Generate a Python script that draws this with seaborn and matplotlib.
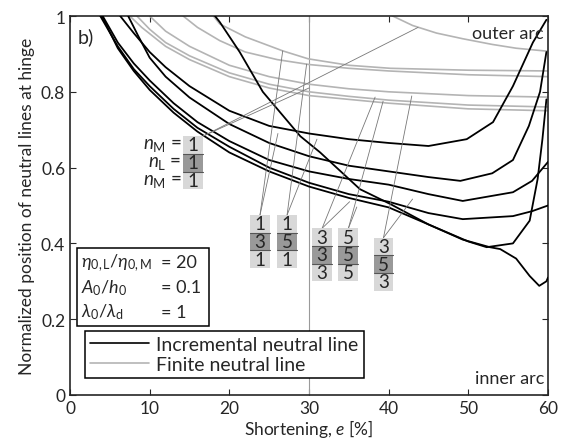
import numpy as np
import pandas as pd
import matplotlib
matplotlib.use("Agg")
import matplotlib.pyplot as plt
from matplotlib.patches import Rectangle
import seaborn as sns

# incremental neutral lines (black)
inc_x = {
    "k1": [6.3, 8, 10, 12, 15, 20, 25, 30, 35, 40, 45, 49.8, 53.1, 55.6, 58.1, 59.8],
    "k2": [7.3, 8.5, 10, 12, 15, 20, 25, 30, 35, 40, 45, 49, 53, 55.6, 57.6, 59, 59.8],
    "k3": [4.1, 6, 8, 10, 13, 16, 20, 25, 30, 35, 40, 45, 49.3, 55.6, 58, 60],
    "k4": [3.8, 6, 8, 10, 13, 16, 20, 25, 30, 35, 40, 45, 49.3, 55.6, 58, 60],
    "k5": [4.0, 6, 8, 10, 13, 16, 20, 25, 30, 35, 40, 45, 50, 52.3, 55.6, 57.7, 58.7, 59.3, 59.8],
    "k6": [18.2, 18.8, 21.3, 24.2, 28.9, 31.4, 36.4, 40.2, 45, 49.3, 52.7, 54, 56, 57.7, 58.9, 59.8, 60],
}
inc_y = {
    "k1": [1.0, 0.955, 0.905, 0.865, 0.815, 0.75, 0.71, 0.69, 0.675, 0.665, 0.657, 0.675, 0.72, 0.815, 0.93, 0.99],
    "k2": [1.0, 0.95, 0.89, 0.84, 0.785, 0.715, 0.665, 0.63, 0.605, 0.59, 0.575, 0.565, 0.585, 0.62, 0.71, 0.8, 0.905],
    "k3": [1.0, 0.93, 0.875, 0.83, 0.77, 0.72, 0.67, 0.62, 0.59, 0.57, 0.555, 0.53, 0.512, 0.535, 0.565, 0.615],
    "k4": [1.0, 0.92, 0.86, 0.815, 0.755, 0.705, 0.655, 0.6, 0.56, 0.53, 0.51, 0.48, 0.464, 0.472, 0.485, 0.5],
    "k5": [1.0, 0.915, 0.855, 0.805, 0.745, 0.695, 0.64, 0.59, 0.55, 0.52, 0.495, 0.45, 0.405, 0.39, 0.4, 0.46, 0.57, 0.675, 0.78],
    "k6": [1.0, 0.984, 0.905, 0.8, 0.683, 0.64, 0.543, 0.504, 0.45, 0.41, 0.39, 0.385, 0.36, 0.314, 0.288, 0.3, 0.31],
}

# finite neutral lines (grey)
fin_x = {
    "g1": [40.5, 43, 46, 49.3, 53, 56, 60],
    "g2": [18.0, 18.8, 22, 26.7, 29.9, 35, 40.2, 50, 60],
    "g3": [14.2, 16, 18.8, 22, 26, 30, 35, 40, 50, 60],
    "g4": [10, 12, 15, 20, 25, 30, 35, 40, 50, 60],
    "g5": [8.4, 10, 12, 15, 20, 25, 30, 35, 40, 50, 60],
    "g6": [7.5, 9, 12, 15, 20, 25, 30, 35, 40, 50, 60],
}
fin_y = {
    "g1": [1.0, 0.975, 0.955, 0.94, 0.925, 0.915, 0.907],
    "g2": [1.0, 0.979, 0.945, 0.908, 0.887, 0.87, 0.862, 0.857, 0.855],
    "g3": [1.0, 0.97, 0.935, 0.905, 0.885, 0.872, 0.862, 0.855, 0.845, 0.84],
    "g4": [1.0, 0.96, 0.92, 0.87, 0.84, 0.82, 0.808, 0.8, 0.79, 0.786],
    "g5": [1.0, 0.965, 0.93, 0.895, 0.85, 0.82, 0.8, 0.788, 0.778, 0.765, 0.76],
    "g6": [1.0, 0.97, 0.92, 0.885, 0.84, 0.81, 0.79, 0.78, 0.77, 0.755, 0.75],
}

# layer stacks n_M / n_L / n_M
stacks = [("1", "1", "1"), ("1", "3", "1"), ("1", "5", "1"),
          ("3", "3", "3"), ("5", "5", "5"), ("3", "5", "3")]
stack_x = [14.2, 22.6, 26.0, 30.4, 33.7, 38.1]
stack_top = [0.683, 0.475, 0.475, 0.44, 0.44, 0.415]
# end points of the pointer lines (one on a grey and one on a black curve)
ptr_ends = [[(43.7, 0.97), (30.0, 0.81)],
            [(26.7, 0.908), (26.1, 0.69)],
            [(29.7, 0.873), (31.0, 0.675)],
            [(38.3, 0.786), (35.1, 0.51)],
            [(39.3, 0.775), (36.0, 0.496)],
            [(42.9, 0.789), (43.0, 0.517)]]

rows = []
for k in inc_x:
    for xv, yv in zip(inc_x[k], inc_y[k]):
        rows.append({"e": xv, "pos": yv, "curve": k, "kind": "Incremental neutral line"})
for k in fin_x:
    for xv, yv in zip(fin_x[k], fin_y[k]):
        rows.append({"e": xv, "pos": yv, "curve": k, "kind": "Finite neutral line"})
df = pd.DataFrame(rows)

sns.set_style("ticks")
plt.rcParams["font.family"] = ["Lato", "DejaVu Sans"]
plt.rcParams["mathtext.fontset"] = "custom"
plt.rcParams["mathtext.it"] = "Lato:italic"
plt.rcParams["mathtext.rm"] = "Lato"

fig = plt.figure(figsize=(5.63, 4.39), dpi=100)
ax = fig.add_axes([70 / 563, 1 - 396 / 439, 478 / 563, 379 / 439])

ax.axvline(30, color="#9a9a9a", lw=0.8, zorder=1)

sns.lineplot(data=df[df.kind == "Finite neutral line"], x="e", y="pos", units="curve",
             estimator=None, sort=False, color="#b4b4b4", lw=1.2, ax=ax, zorder=2)
sns.lineplot(data=df[df.kind == "Incremental neutral line"], x="e", y="pos", units="curve",
             estimator=None, sort=False, color="black", lw=1.3, ax=ax, zorder=3)

ax.set_xlim(0, 60)
ax.set_ylim(0, 1)
ax.set_xticks(range(0, 61, 10))
ax.set_yticks([0, 0.2, 0.4, 0.6, 0.8, 1])
ax.set_yticklabels(["0", "0.2", "0.4", "0.6", "0.8", "1"])
ax.tick_params(direction="in", top=True, right=True, labelsize=12.5, length=4)
for s in ax.spines.values():
    s.set_linewidth(1.2)
ax.set_xlabel("Shortening, $e$ [%]", fontsize=12.5, labelpad=1)
ax.set_ylabel("Normalized position of neutral lines at hinge", fontsize=12.5, labelpad=4)

# stacks of layer boxes
cw, ch = 2.5, 0.14 / 3
for (a, b, c), x0, top, ends in zip(stacks, stack_x, stack_top, ptr_ends):
    for i, (v, col) in enumerate(zip((a, b, c), ("#d8d8d8", "#999999", "#d8d8d8"))):
        y0 = top - (i + 1) * ch
        ax.add_patch(Rectangle((x0, y0), cw, ch, facecolor=col, edgecolor="none", zorder=4))
        ax.text(x0 + cw / 2, y0 + ch / 2, v, ha="center", va="center", fontsize=13.5, zorder=5)
    for yy in (top - ch, top - 2 * ch):
        ax.plot([x0, x0 + cw], [yy, yy], color="#555555", lw=0.8, zorder=5)
    sx = x0 + cw / 2 if x0 > 20 else x0 + cw
    for ex, ey in ends:
        ax.plot([sx, ex], [top, ey], color="#777777", lw=0.6, zorder=3)

for i, lab in enumerate(["$n_\\mathrm{M}$ =", "$n_\\mathrm{L}$ =", "$n_\\mathrm{M}$ ="]):
    ax.text(14.0, stack_top[0] - (i + 0.5) * ch, lab, ha="right", va="center", fontsize=13.5, zorder=5)

ax.text(0.9, 0.93, "b)", fontsize=14)
ax.text(59.5, 0.955, "outer arc", ha="right", va="center", fontsize=13)
ax.text(59.5, 0.045, "inner arc", ha="right", va="center", fontsize=13)

# parameter box
ax.add_patch(Rectangle((0.9, 0.182), 16.5, 0.206, facecolor="white", edgecolor="black", lw=1.1, zorder=4))
params = [("$\\eta_{0,\\mathrm{L}}/\\eta_{0,\\mathrm{M}}$", "= 20"),
          ("$A_0/h_0$", "= 0.1"),
          ("$\\lambda_0/\\lambda_\\mathrm{d}$", "= 1")]
for i, (l, r) in enumerate(params):
    yy = 0.35 - i * 0.065
    ax.text(1.4, yy, l, va="center", fontsize=13, zorder=5)
    ax.text(11.4, yy, r, va="center", fontsize=13, zorder=5)

leg = ax.legend(handles=[plt.Line2D([], [], color="black", lw=1.2),
                         plt.Line2D([], [], color="#b4b4b4", lw=1.2)],
                labels=["Incremental neutral line", "Finite neutral line"],
                loc="lower left", bbox_to_anchor=(0.012, 0.02), fontsize=14, frameon=True,
                fancybox=False, edgecolor="black", framealpha=1, handlelength=3.0,
                handletextpad=0.4, borderpad=0.25, labelspacing=0.15)
leg.get_frame().set_linewidth(1.1)
leg.set_zorder(6)

fig.savefig("out.png", dpi=100)
